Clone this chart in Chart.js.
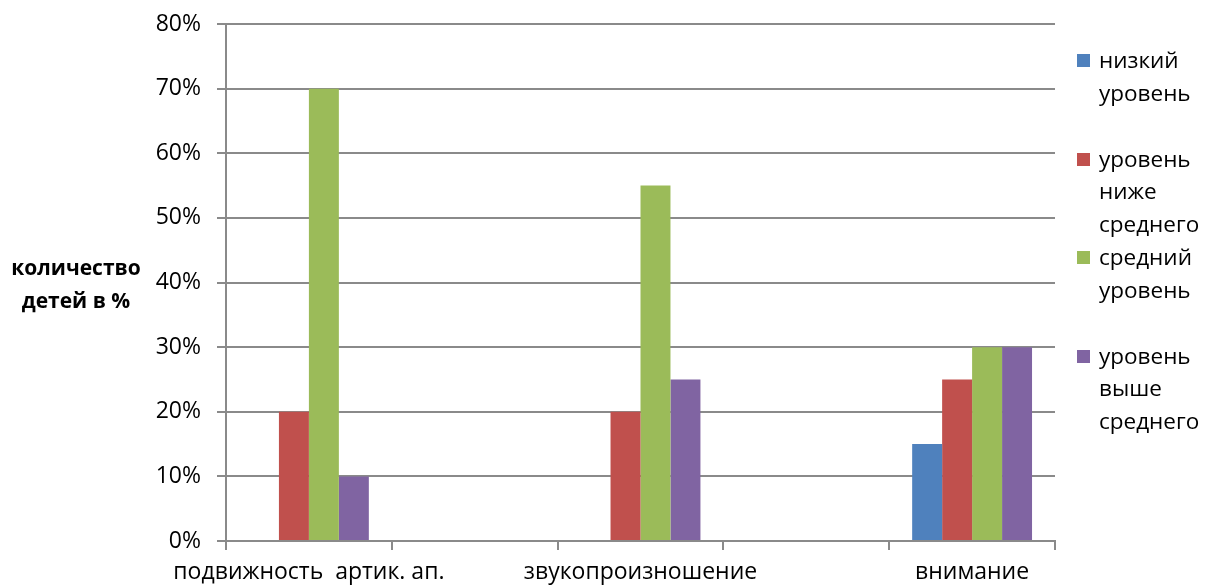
<!DOCTYPE html>
<html lang="ru">
<head>
<meta charset="utf-8">
<script src="https://cdn.jsdelivr.net/npm/chart.js@4/dist/chart.umd.min.js"></script>
<style>
  html, body { margin: 0; padding: 0; background: #fff; }
  #wrap { position: relative; width: 1205px; height: 585px; font-family: "Open Sans", sans-serif; color: #000; }
  #chart { position: absolute; left: 0; top: 0; }
  #ytitle { position: absolute; left: 0; width: 152px; top: 251px; text-align: center;
            font-weight: bold; font-size: 21px; line-height: 33px; }
  .leg { position: absolute; left: 1077px; width: 128px; }
  .leg .box { position: absolute; left: 0; top: 10px; width: 13px; height: 13px; }
  .leg .txt { position: absolute; left: 22px; top: 0; font-size: 22.5px; line-height: 32.5px; white-space: nowrap; }
</style>
</head>
<body>
<div id="wrap">
  <canvas id="chart" width="1205" height="585"></canvas>
  <div id="ytitle">количество<br>детей в %</div>
</div>
<script>
// Categories along the x axis (blank slots keep the groups apart)
const categories = ["подвижность  артик. ап.", "", "звукопроизношение", "", "внимание"];

// Share of children per level, in percent
const lowLevel         = [0,  null, 0,  null, 15];
const belowAverage     = [20, null, 20, null, 25];
const averageLevel     = [70, null, 55, null, 30];
const aboveAverage     = [10, null, 25, null, 30];

// Legend captions, split into lines
const seriesNames = [
  ["низкий", "уровень"],
  ["уровень", "ниже", "среднего"],
  ["средний", "уровень"],
  ["уровень", "выше", "среднего"]
];
const seriesColors = ["#4F81BD", "#C0504D", "#9BBB59", "#8064A2"];

// Y axis ticks
const yTicks = [0, 10, 20, 30, 40, 50, 60, 70, 80];

const seriesData = [lowLevel, belowAverage, averageLevel, aboveAverage];
const gridColor = "#8a8a8a";
const FONT = "'Open Sans', sans-serif";

const chart = new Chart(document.getElementById("chart"), {
  type: "bar",
  data: {
    labels: categories,
    datasets: seriesData.map((d, i) => ({
      label: seriesNames[i].join(" "),
      data: d,
      backgroundColor: seriesColors[i],
      borderWidth: 0,
      categoryPercentage: 0.723,
      barPercentage: 1
    }))
  },
  options: {
    responsive: false,
    animation: false,
    layout: { padding: { left: 0, right: 150, top: 24, bottom: 0 } },
    plugins: { legend: { display: false }, tooltip: { enabled: false } },
    scales: {
      x: {
        offset: true,
        grid: { display: true, offset: true, drawOnChartArea: false, drawTicks: true,
                tickLength: 9, color: gridColor, lineWidth: 2 },
        border: { display: true, color: gridColor, width: 2 },
        ticks: { color: "#000", font: { family: FONT, size: 23 }, padding: 9,
                 maxRotation: 0, autoSkip: false },
        afterFit: s => { s.height = 44; s.paddingLeft = 0; s.paddingRight = 0; }
      },
      y: {
        min: 0, max: 80,
        afterBuildTicks: s => { s.ticks = yTicks.map(v => ({ value: v })); },
        grid: { color: gridColor, lineWidth: 2, tickLength: 9 },
        border: { display: true, color: gridColor, width: 2 },
        ticks: { color: "#000", font: { family: FONT, size: 23 }, padding: 16,
                 callback: v => v + "%" },
        afterFit: s => { s.width = 226; s.paddingTop = 0; s.paddingBottom = 0; }
      }
    }
  }
});

// Legend on the right, one block per series
const wrap = document.getElementById("wrap");
seriesNames.forEach((lines, i) => {
  const item = document.createElement("div");
  item.className = "leg";
  item.style.top = (44 + i * 98.5) + "px";
  const box = document.createElement("div");
  box.className = "box";
  box.style.background = seriesColors[i];
  const txt = document.createElement("div");
  txt.className = "txt";
  txt.innerHTML = lines.join("<br>");
  item.appendChild(box);
  item.appendChild(txt);
  wrap.appendChild(item);
});
</script>
</body>
</html>
